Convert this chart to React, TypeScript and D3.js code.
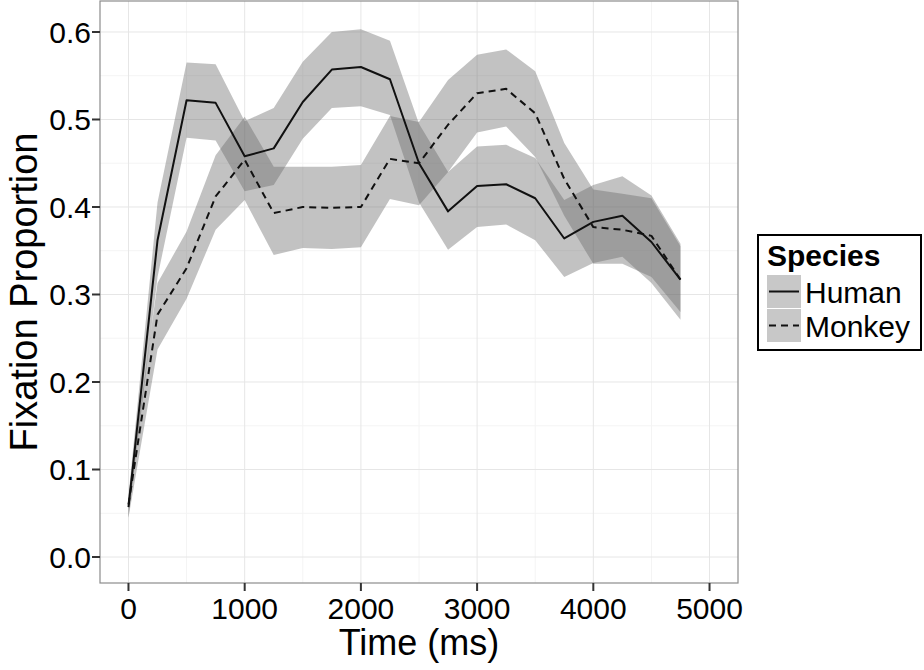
import React from "react";
import * as d3 from "d3";

const time = [0, 250, 500, 750, 1000, 1250, 1500, 1750, 2000, 2250, 2500, 2750, 3000, 3250, 3500, 3750, 4000, 4250, 4500, 4750];
const humanMean = [0.057, 0.362, 0.522, 0.519, 0.458, 0.467, 0.52, 0.557, 0.56, 0.546, 0.45, 0.395, 0.424, 0.426, 0.41, 0.364, 0.383, 0.39, 0.36, 0.317];
const humanLow = [0.045, 0.32, 0.479, 0.476, 0.418, 0.425, 0.478, 0.513, 0.515, 0.505, 0.405, 0.351, 0.377, 0.38, 0.362, 0.32, 0.336, 0.343, 0.313, 0.271];
const humanHigh = [0.07, 0.405, 0.565, 0.563, 0.498, 0.513, 0.566, 0.6, 0.603, 0.59, 0.495, 0.44, 0.469, 0.471, 0.456, 0.408, 0.425, 0.435, 0.413, 0.358];
const monkeyMean = [0.06, 0.277, 0.33, 0.412, 0.454, 0.393, 0.4, 0.399, 0.4, 0.455, 0.45, 0.494, 0.53, 0.535, 0.507, 0.432, 0.377, 0.374, 0.367, 0.317];
const monkeyLow = [0.045, 0.237, 0.295, 0.374, 0.408, 0.345, 0.353, 0.352, 0.354, 0.409, 0.402, 0.44, 0.485, 0.492, 0.457, 0.39, 0.335, 0.335, 0.32, 0.28];
const monkeyHigh = [0.07, 0.313, 0.372, 0.459, 0.503, 0.446, 0.446, 0.446, 0.448, 0.504, 0.497, 0.545, 0.574, 0.58, 0.555, 0.473, 0.42, 0.415, 0.41, 0.355];

const xTicks = [0, 1000, 2000, 3000, 4000, 5000];
const xMinor = [500, 1500, 2500, 3500, 4500];
const yTicks = [0.0, 0.1, 0.2, 0.3, 0.4, 0.5, 0.6];
const yMinor = [0.05, 0.15, 0.25, 0.35, 0.45, 0.55];
const species = ["Human", "Monkey"];

const FONT = "'Liberation Sans', Arial, Helvetica, sans-serif";

export default function App() {
  const W = 924, H = 670;
  const left = 100, right = 738, top = 1, bottom = 583;
  const x = d3.scaleLinear().domain([-245, 5245]).range([left, right]);
  const y = d3.scaleLinear().domain([-0.0297, 0.6354]).range([bottom, top]);

  const series = [
    { name: species[0], mean: humanMean, low: humanLow, high: humanHigh, dash: "none" },
    { name: species[1], mean: monkeyMean, low: monkeyLow, high: monkeyHigh, dash: "7,5" },
  ];

  const area = (low: number[], high: number[]) =>
    d3.area<number>()
      .x((_, i) => x(time[i]))
      .y0((_, i) => y(low[i]))
      .y1((_, i) => y(high[i]))(time) || "";
  const line = (vals: number[]) =>
    d3.line<number>()
      .x((_, i) => x(time[i]))
      .y((_, i) => y(vals[i]))(time) || "";

  const bandFill = "#666666";
  const bandOpacity = 0.4;

  return (
    <svg width={W} height={H} style={{ position: "absolute", left: 0, top: 0, background: "#fff" }} fontFamily={FONT}>
      <rect x={0} y={0} width={W} height={H} fill="#fff" />
      {xMinor.map((t) => (
        <line key={"xm" + t} x1={x(t)} x2={x(t)} y1={top} y2={bottom} stroke="#f4f4f4" strokeWidth={1} />
      ))}
      {yMinor.map((t) => (
        <line key={"ym" + t} x1={left} x2={right} y1={y(t)} y2={y(t)} stroke="#f4f4f4" strokeWidth={1} />
      ))}
      {xTicks.map((t) => (
        <line key={"xg" + t} x1={x(t)} x2={x(t)} y1={top} y2={bottom} stroke="#e6e6e6" strokeWidth={1} />
      ))}
      {yTicks.map((t) => (
        <line key={"yg" + t} x1={left} x2={right} y1={y(t)} y2={y(t)} stroke="#e6e6e6" strokeWidth={1} />
      ))}
      {series.map((s) => (
        <path key={"a" + s.name} d={area(s.low, s.high)} fill={bandFill} fillOpacity={bandOpacity} />
      ))}
      {series.map((s) => (
        <path key={"l" + s.name} d={line(s.mean)} fill="none" stroke="#111" strokeWidth={2} strokeDasharray={s.dash} strokeLinejoin="round" />
      ))}
      <rect x={left} y={top} width={right - left} height={bottom - top} fill="none" stroke="#8c8c8c" strokeWidth={1.2} />
      {xTicks.map((t) => (
        <g key={"xt" + t}>
          <line x1={x(t)} x2={x(t)} y1={bottom} y2={bottom + 8} stroke="#333" strokeWidth={2} />
          <text x={x(t)} y={619} textAnchor="middle" fontSize={30} fill="#000">{String(t)}</text>
        </g>
      ))}
      {yTicks.map((t) => (
        <g key={"yt" + t}>
          <line x1={left - 8} x2={left} y1={y(t)} y2={y(t)} stroke="#333" strokeWidth={2} />
          <text x={left - 9} y={y(t)} dy="0.36em" textAnchor="end" fontSize={30} fill="#000">{t.toFixed(1)}</text>
        </g>
      ))}
      <text x={(left + right) / 2} y={655} textAnchor="middle" fontSize={36} fill="#000">Time (ms)</text>
      <text transform={`translate(37, ${(top + bottom) / 2}) rotate(-90)`} textAnchor="middle" fontSize={38} fill="#000">Fixation Proportion</text>
      <rect x={758} y={235} width={163} height={115} fill="#fff" stroke="#000" strokeWidth={2} />
      <text x={767} y={266} fontSize={30} fontWeight="bold" fill="#000">Species</text>
      {series.map((s, i) => {
        const ky = 275 + i * 34;
        return (
          <g key={"lg" + s.name}>
            <rect x={767} y={ky} width={34} height={33} fill={bandFill} fillOpacity={0.36} />
            <line x1={769} x2={799} y1={ky + 16.5} y2={ky + 16.5} stroke="#111" strokeWidth={2} strokeDasharray={s.dash === "none" ? "none" : "7,5"} />
            <text x={805} y={ky + 28} fontSize={30} fill="#000">{s.name}</text>
          </g>
        );
      })}
    </svg>
  );
}
